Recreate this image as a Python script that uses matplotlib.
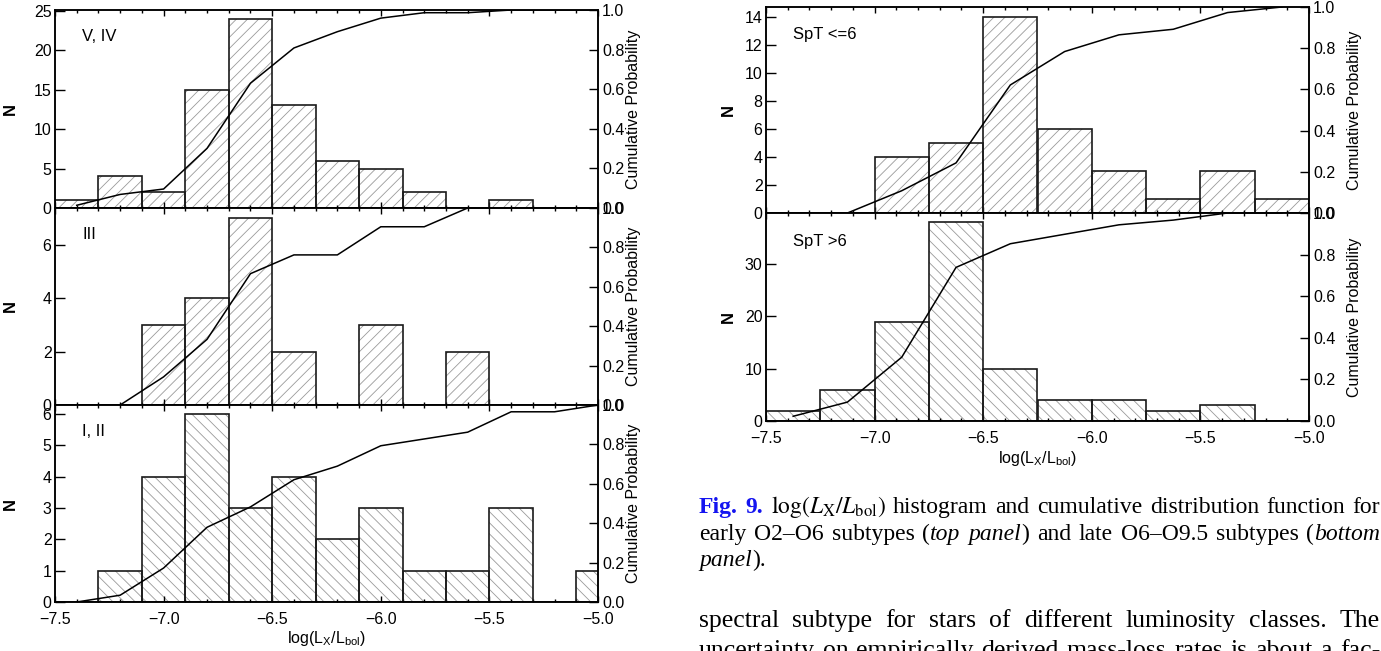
import matplotlib
matplotlib.use('Agg')
import matplotlib.pyplot as plt
import numpy as np
from matplotlib.ticker import MultipleLocator, FixedLocator, FuncFormatter

plt.rcParams['font.family'] = ['Liberation Sans', 'DejaVu Sans']
plt.rcParams['hatch.linewidth'] = 0.6
plt.rcParams['axes.unicode_minus'] = True

# ---------------- data ----------------
# Luminosity-class figure: bins of 0.2 dex
lum_bin_left = [-7.5, -7.3, -7.1, -6.9, -6.7, -6.5, -6.3, -6.1, -5.9, -5.7, -5.5, -5.3, -5.1]
lum_bin_width = 0.2
counts_V_IV = [1, 4, 2, 15, 24, 13, 6, 5, 2, 0, 1, 0, 0]
counts_III = [0, 0, 3, 4, 7, 2, 0, 3, 0, 2, 0, 0, 0]
counts_I_II = [0, 1, 4, 6, 3, 4, 2, 3, 1, 1, 3, 0, 1]
lum_labels = ['V, IV', 'III', 'I, II']

# Spectral-type figure: bins of 0.25 dex
spt_bin_left = [-7.5, -7.25, -7.0, -6.75, -6.5, -6.25, -6.0, -5.75, -5.5, -5.25]
spt_bin_width = 0.25
counts_early = [0, 0, 4, 5, 14, 6, 3, 1, 3, 1]
counts_late = [2, 6, 19, 38, 10, 4, 4, 2, 3, 0]
spt_labels = ['SpT <=6', 'SpT >6']

x_ticks = [-7.5, -7.0, -6.5, -6.0, -5.5, -5.0]

W, H = 1381, 651
fig = plt.figure(figsize=(W / 100, H / 100), dpi=100)

HATCH_C = '#9a9a9a'
EDGE_C = '#1a1a1a'
TICK_FS = 11.5


def ax_rect(x0, x1, ytop, ybot):
    return [x0 / W, 1 - ybot / H, (x1 - x0) / W, (ybot - ytop) / H]


def minus_fmt(fmt):
    return FuncFormatter(lambda v, p: (fmt % v).replace('-', '\u2212'))


def panel(rect, lefts, width, counts, hatch, label, ytop, ymajor, show_x,
          nlab_x, clab_x):
    ax = fig.add_axes(rect)
    lefts = np.asarray(lefts, float)
    counts = np.asarray(counts, float)
    ax.bar(lefts, counts, width=width, align='edge', color='white',
           edgecolor=HATCH_C, hatch=hatch, linewidth=0, zorder=1)
    ax.bar(lefts, counts, width=width, align='edge', fill=False,
           edgecolor=EDGE_C, linewidth=1.2, zorder=2)
    ax.set_xlim(-7.5, -5.0)
    ax.set_ylim(0, ytop)
    ax.xaxis.set_major_locator(FixedLocator(x_ticks))
    ax.xaxis.set_minor_locator(MultipleLocator(0.1))
    ax.xaxis.set_major_formatter(minus_fmt('%.1f'))
    ax.yaxis.set_major_locator(MultipleLocator(ymajor))
    ax.yaxis.set_major_formatter(minus_fmt('%d'))
    ax.tick_params(axis='x', which='both', direction='in', top=True, bottom=True,
                   labelbottom=show_x, labelsize=TICK_FS, pad=7, width=1.0)
    ax.tick_params(axis='x', which='major', length=4.5)
    ax.tick_params(axis='x', which='minor', length=2.5)
    ax.tick_params(axis='y', which='major', direction='in', length=7.5, width=1.0,
                   labelsize=TICK_FS, pad=2.5)
    for s in ax.spines.values():
        s.set_linewidth(1.1)
    ax.set_ylabel('N', fontsize=12, fontweight='bold')
    ax.yaxis.set_label_coords(nlab_x, 0.5)
    ax.text(0.05, 0.865, label, transform=ax.transAxes, fontsize=12, va='center',
            ha='left')

    # cumulative distribution at bin centres
    centers = lefts + width / 2
    cum = np.cumsum(counts) / counts.sum()
    ax2 = ax.twinx()
    ax2.plot(centers, cum, color='black', lw=1.1, zorder=3)
    ax2.set_ylim(0, 1.0)
    ax2.set_xlim(-7.5, -5.0)
    ax2.yaxis.set_major_locator(FixedLocator([0.0, 0.2, 0.4, 0.6, 0.8, 1.0]))
    ax2.yaxis.set_major_formatter(minus_fmt('%.1f'))
    ax2.tick_params(axis='y', direction='in', length=6.5, width=1.0,
                    labelsize=TICK_FS, pad=3)
    for s in ax2.spines.values():
        s.set_linewidth(1.1)
    ax2.set_ylabel('Cumulative Probability', fontsize=11.5, rotation=90)
    ax2.yaxis.set_label_coords(clab_x, 0.5)
    if show_x:
        ax.set_xlabel('log(L$_\\mathregular{X}$/L$_\\mathregular{bol}$)', fontsize=11.5,
                      labelpad=2)
    return ax


# Left figure
LX0, LX1 = 55, 598
panel(ax_rect(LX0, LX1, 10, 208), lum_bin_left, lum_bin_width, counts_V_IV, '///',
      lum_labels[0], 25.1, 5, False, -0.068, 1.051)
panel(ax_rect(LX0, LX1, 208, 405), lum_bin_left, lum_bin_width, counts_III, '///',
      lum_labels[1], 7.37, 2, False, -0.068, 1.051)
panel(ax_rect(LX0, LX1, 405, 602), lum_bin_left, lum_bin_width, counts_I_II, '\\\\\\',
      lum_labels[2], 6.28, 1, True, -0.068, 1.051)

# Right figure
RX0, RX1 = 766, 1309
panel(ax_rect(RX0, RX1, 7, 213), spt_bin_left, spt_bin_width, counts_early, '///',
      spt_labels[0], 14.75, 2, False, -0.055, 1.07)
panel(ax_rect(RX0, RX1, 213, 421), spt_bin_left, spt_bin_width, counts_late, '\\\\\\',
      spt_labels[1], 39.8, 10, True, -0.055, 1.07)

# ---------------- caption and body text ----------------
SERIF = 'Liberation Serif'
N_ = dict(family=SERIF)
I_ = dict(family=SERIF, style='italic')
B_ = dict(family=SERIF, weight='bold', color='#1414f0')
M_ = dict(family=SERIF, math_fontfamily='stix')

renderer = fig.canvas.get_renderer()


def draw_line(words, x0, x1, ybase, justify, size):
    objs, widths = [], []
    for w in words:
        segs, ww = [], 0.0
        for txt, st in w:
            t = fig.text(0, 1 - ybase / H, txt, fontsize=size, va='baseline',
                         ha='left', **st)
            bw = t.get_window_extent(renderer).width
            segs.append((t, bw))
            ww += bw
        objs.append(segs)
        widths.append(ww)
    total = sum(widths)
    if justify and len(words) > 1:
        gap = (x1 - x0 - total) / (len(words) - 1)
    else:
        gap = 0.25 * size * 100 / 72
    x = x0
    for segs in objs:
        for t, bw in segs:
            t.set_x(x / W)
            x += bw
        x += gap


def plain(s, st=N_):
    return [[(w, st)] for w in s.split()]


CAP = 17
BODY = 18.5
line1 = [[('Fig.', B_)], [('9.', B_)], [(r'$\log(L_{\rm X}/L_{\rm bol})$', M_)]] + \
    plain('histogram and cumulative distribution function for')
line2 = plain('early O2\u2013O6 subtypes') + [[('(', N_), ('top', I_)]] + \
    [[('panel', I_), (')', N_)]] + plain('and late O6\u2013O9.5 subtypes') + \
    [[('(', N_), ('bottom', I_)]]
line3 = [[('panel', I_), (').', N_)]]
body1 = plain('spectral subtype for stars of different luminosity classes. The')
body2 = plain('uncertainty on empirically derived mass-loss rates is about a fac-')

TX0, TX1 = 699, 1380
draw_line(line1, TX0, TX1, 513, True, CAP)
draw_line(line2, TX0, TX1, 540, True, CAP)
draw_line(line3, TX0, TX1, 566, False, CAP)
draw_line(body1, TX0, TX1, 627, True, BODY)
draw_line(body2, TX0, TX1, 657, True, BODY)

fig.savefig('out.png', dpi=100)
